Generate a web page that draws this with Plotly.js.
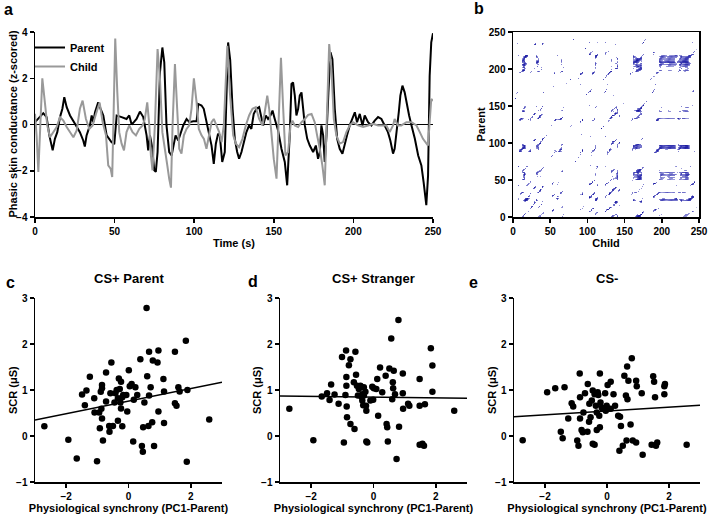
<!DOCTYPE html>
<html>
<head>
<meta charset="utf-8">
<script src="https://cdn.plot.ly/plotly-3.0.1.min.js"></script>
<style>html,body{margin:0;padding:0;background:#fff;}#chart{width:708px;height:516px;}</style>
</head>
<body>
<div id="chart"></div>
<script>
// ---------- Panel a: phasic skin conductance time series ----------
const parentTime = [0,5.2,7.3,9.0,11.1,12.5,14.0,15.7,17.2,18.4,19.9,22.0,25.1,28.2,30.3,31.3,32.4,34.5,35.6,36.6,37.7,39.7,41.2,42.9,45.0,48.0,49.8,51.3,54.4,57.5,59.2,60.7,62.1,63.8,65.9,68.0,70.1,71.1,72.2,73.6,74.9,75.9,77.0,78.5,80.0,81.2,82.6,84.3,85.8,86.8,88.3,90.0,91.6,93.1,95.2,96.9,99.4,101.5,102.5,104.6,106.0,107.7,109.4,110.9,112.3,113.6,115.0,116.1,117.6,119.2,121.3,122.6,124.1,125.5,127.0,128.2,129.7,131.2,132.8,134.5,135.9,137.4,139.1,140.8,142.3,143.3,145.0,146.4,147.9,149.2,150.6,152.7,154.8,156.9,158.4,160.0,161.1,162.1,163.2,164.2,165.3,166.3,167.4,168.4,169.5,171.0,172.6,174.7,176.4,177.8,178.9,179.9,181.0,182.0,183.1,184.3,185.6,186.8,188.3,189.8,191.4,193.1,194.6,196.0,197.7,199.3,200.9,202.3,204.0,205.7,207.1,209.2,211.3,213.4,215.5,217.6,219.6,221.7,223.2,224.9,225.9,227.0,228.5,229.5,230.8,232.2,233.3,235.0,236.5,238.6,240.7,242.7,244.1,245.8,246.9,247.9,248.9,250.0];
const parentZ = [0.10,0.49,0.32,-0.47,-1.12,-0.62,-0.33,0.32,0.68,1.18,0.75,0.39,0.03,-0.33,-0.69,-0.95,-0.47,-0.04,0.39,0.10,0.53,0.96,0.68,0.39,-0.47,-0.76,-0.85,0.39,0.32,0.24,0.39,0.00,0.10,0.24,0.56,0.32,-0.47,-1.12,-0.47,-0.98,-1.98,-2.05,-1.19,2.26,3.33,2.69,-0.04,-1.19,-1.34,-0.91,-0.47,-0.69,-0.33,-0.04,0.24,0.10,0.14,0.14,0.89,0.82,0.68,0.10,-0.47,-0.91,-1.70,-0.83,-0.40,-0.47,-1.62,-1.19,3.55,2.80,0.68,-0.62,-1.19,-1.48,-1.19,-0.76,-0.33,-0.04,-0.19,0.46,0.68,0.75,0.32,-0.04,0.39,0.24,0.39,0.60,0.24,-0.26,-1.05,-1.62,-2.63,-0.47,1.75,1.82,1.25,0.39,0.68,1.25,1.39,0.82,-0.04,-0.62,-0.91,-1.19,-0.91,-1.48,-1.19,-0.04,-0.47,-1.62,-0.47,1.39,3.12,2.83,0.68,-0.62,-1.05,-1.26,-0.91,-0.47,-0.04,0.24,0.53,0.10,0.46,-0.04,0.39,0.10,-0.04,0.17,0.32,0.24,-0.04,-0.33,-0.69,-1.26,-1.05,-0.47,0.53,1.25,1.68,1.39,0.96,0.39,-0.04,-0.62,-1.34,-1.77,-2.49,-3.49,-2.21,2.11,3.55,3.95];
const childTime = [0,1.0,2.1,3.2,4.6,6.3,7.7,9.4,11.5,13.6,15.7,17.8,19.9,22.0,24.1,26.2,28.2,29.9,32.0,34.1,36.2,38.3,40.6,42.5,44.6,46.0,47.5,48.5,49.6,50.4,51.7,52.9,54.4,55.9,57.5,59.2,61.3,63.4,65.5,67.6,69.0,70.5,71.8,72.8,73.8,75.3,77.0,78.5,80.0,81.6,83.1,84.3,85.4,86.4,87.9,89.3,90.6,92.0,93.5,95.2,96.9,98.3,99.8,101.5,102.9,104.6,106.1,107.7,109.4,110.9,112.3,114.0,115.7,117.2,118.6,120.8,122.4,124.5,126.2,128.2,130.3,132.4,134.5,136.6,138.7,140.8,142.9,144.3,145.9,147.1,148.6,150.0,151.7,153.0,154.5,155.9,157.3,159.0,160.5,161.7,163.2,165.3,167.4,169.5,171.6,173.7,175.7,177.2,178.9,180.5,182.0,183.5,184.8,186.2,187.7,189.3,191.4,193.5,195.6,197.7,199.8,202.9,206.1,209.2,212.3,215.5,218.6,220.7,222.8,224.9,225.9,228.0,230.1,233.3,236.5,239.6,241.7,243.7,246.9,247.9,248.9,250.0];
const childZ = [0.46,-0.47,-2.05,-0.33,2.00,0.89,-0.04,-0.55,-0.33,-0.11,0.32,0.17,-0.11,-0.33,-0.55,-0.26,0.68,1.03,0.24,-0.19,-0.04,0.46,0.95,0.10,-0.47,-1.77,-1.91,-2.27,1.20,3.72,1.39,-0.33,-0.83,-1.12,-0.33,-0.04,-0.33,-0.47,-0.19,-0.04,0.24,0.96,-0.04,-1.34,-1.98,-0.04,3.26,1.97,-0.33,-1.19,-1.77,-2.35,-2.73,-0.04,2.61,0.68,-1.05,-1.26,-0.47,-0.19,-0.04,0.68,2.00,0.96,-0.19,-0.47,-0.62,-1.05,-0.47,0.10,0.24,-0.04,-0.33,-0.76,-0.04,3.40,1.39,-0.47,-0.83,-0.98,-0.62,-0.04,0.39,0.68,0.75,0.24,-0.04,0.53,1.25,0.68,-0.62,-1.50,-2.34,-0.04,2.88,0.68,-1.34,-1.19,-0.04,0.17,-0.04,-0.11,0.10,0.24,0.42,0.46,0.10,-0.47,-1.05,-1.77,-2.63,0.68,3.48,2.41,0.24,-0.47,-0.83,-0.76,-0.33,-0.04,0.10,-0.04,-0.11,-0.04,0.03,-0.04,-0.04,-0.04,-0.33,-0.04,0.24,-0.04,-0.04,0.10,0.10,-0.04,-0.33,-0.62,-0.91,-0.04,1.10,1.03];
const timeTicks = [0,50,100,150,200,250];
const zTicks = [-4,-2,0,2,4];

// ---------- Panels c-e: SCR vs physiological synchrony ----------
const csParentX = [-2.70,-1.93,-1.66,-1.01,-1.49,-1.35,-1.24,-1.40,-1.10,-1.09,-0.94,-0.92,-0.87,-0.85,-0.85,-0.89,-0.85,-0.82,-0.72,-0.72,-0.62,-0.61,-0.55,-0.58,-0.50,-0.45,-0.42,-0.38,-0.34,-0.34,-0.31,-0.28,-0.26,-0.24,-0.24,-0.20,-0.20,-0.17,-0.07,-0.04,0.01,0.04,0.10,0.15,0.17,0.22,0.28,0.38,0.43,0.46,0.47,0.51,0.58,0.60,0.64,0.66,0.66,0.71,0.76,0.78,0.82,0.93,0.96,0.96,1.12,1.14,1.14,1.49,1.49,1.54,1.60,1.64,1.84,1.87,1.89,2.59];
const csParentY = [0.21,-0.08,-0.49,-0.55,0.90,0.99,1.29,0.67,0.82,0.51,0.51,0.17,0.59,1.11,1.04,0.96,0.38,-0.10,0.75,1.38,0.22,0.09,1.60,0.93,0.22,0.73,0.93,1.00,0.33,0.82,1.25,1.02,0.73,1.18,0.60,0.21,0.84,0.89,0.89,0.53,1.43,1.08,1.13,-0.12,0.79,1.06,0.89,1.67,-0.22,-0.34,0.19,0.73,2.78,1.30,0.22,1.83,0.88,1.06,0.30,1.64,-0.22,1.60,1.86,0.53,1.24,0.97,0.28,1.83,0.71,0.66,1.06,0.97,2.07,-0.56,1.00,0.36];
const csStrangerX = [-2.70,-1.93,-1.66,-1.49,-1.41,-1.36,-1.25,-1.12,-1.01,-0.95,-0.90,-0.88,-0.87,-0.87,-0.86,-0.85,-0.79,-0.74,-0.74,-0.63,-0.61,-0.58,-0.56,-0.53,-0.50,-0.47,-0.42,-0.39,-0.36,-0.36,-0.33,-0.31,-0.31,-0.26,-0.24,-0.23,-0.23,-0.20,-0.10,-0.04,-0.01,0.01,0.09,0.12,0.15,0.21,0.28,0.39,0.42,0.44,0.46,0.51,0.57,0.60,0.62,0.63,0.65,0.69,0.74,0.80,0.82,0.94,0.94,0.95,1.11,1.15,1.48,1.48,1.48,1.57,1.62,1.65,1.84,1.89,1.89,2.59];
const csStrangerY = [0.59,-0.09,0.86,0.93,0.78,1.12,0.90,0.70,1.72,-0.14,0.89,1.86,1.28,1.09,0.64,0.41,1.54,1.67,0.26,1.17,0.15,1.83,1.33,1.09,0.88,1.02,1.09,0.86,0.77,0.91,0.67,1.06,0.88,0.96,0.66,0.55,-0.12,-0.14,0.77,1.07,0.79,1.04,1.02,1.24,0.44,1.49,0.95,1.31,0.26,0.19,-0.12,1.47,2.12,0.80,1.17,1.04,1.42,0.91,-0.50,2.52,0.20,1.36,0.93,0.59,0.70,0.66,1.24,0.66,-0.19,-0.17,-0.21,0.69,1.91,1.53,0.96,0.55];
const csMinusX = [-2.72,-1.93,-1.67,-1.37,-1.49,-1.43,-1.25,-1.14,-1.09,-0.96,-0.92,-0.88,-0.87,-0.87,-0.82,-0.78,-0.76,-0.71,-0.63,-0.62,-0.58,-0.57,-0.53,-0.49,-0.46,-0.46,-0.40,-0.40,-0.36,-0.33,-0.33,-0.30,-0.28,-0.25,-0.23,-0.23,-0.21,-0.17,-0.14,-0.06,-0.04,-0.01,0.02,0.04,0.12,0.12,0.21,0.26,0.36,0.42,0.40,0.45,0.51,0.56,0.61,0.63,0.65,0.66,0.69,0.76,0.80,0.83,0.94,0.94,0.96,1.12,1.15,1.44,1.49,1.52,1.55,1.58,1.62,1.85,1.87,1.85,2.57];
const csMinusY = [-0.09,0.95,1.04,1.06,0.09,-0.05,0.38,0.71,0.64,-0.10,-0.21,1.36,0.84,0.38,0.13,0.08,0.51,0.93,0.09,1.13,0.31,0.70,0.41,0.77,0.99,-0.17,-0.19,0.91,0.66,0.51,0.13,0.95,0.89,0.44,1.36,0.19,0.73,0.62,0.59,0.93,0.55,0.66,1.11,0.59,1.18,0.59,0.91,0.66,0.44,0.42,-0.32,0.22,-0.21,1.31,0.88,-0.10,1.51,0.80,1.20,0.25,1.69,-0.10,-0.14,1.20,1.08,0.93,-0.41,-0.19,1.30,1.18,0.84,-0.21,-0.14,1.08,1.13,0.91,-0.19];
// regression lines (read at the ends of the x axis)
const fitX = [-3, 3];
const fitParentY = [0.35, 1.17];
const fitStrangerY = [0.87, 0.82];
const fitMinusY = [0.42, 0.67];
const syncTicks = [-2, 0, 2];
const scrTicks = [-1, 0, 1, 2, 3];

// ---------- Panel b: cross-recurrence of the two series above ----------
function onGrid(t, v) {
  const out = []; let k = 0;
  for (let s = 0; s <= 250; s++) {
    while (k < t.length - 2 && t[k + 1] < s) k++;
    let f = (s - t[k]) / (t[k + 1] - t[k]); f = Math.max(0, Math.min(1, f));
    out.push(v[k] + (v[k + 1] - v[k]) * f);
  }
  return out;
}
const P = onGrid(parentTime, parentZ), C = onGrid(childTime, childZ);
const M = 3, TAU = 2, EPS = 0.4;
const N = 251 - (M - 1) * TAU;
const rx = [], ry = [], rz = [];
for (let i = 0; i < N; i++) { rx.push(i); ry.push(i); }
for (let j = 0; j < N; j++) {
  const row = [];
  for (let i = 0; i < N; i++) {
    let d = 0;
    for (let k = 0; k < M; k++) d = Math.max(d, Math.abs(P[j + k * TAU] - C[i + k * TAU]));
    row.push(d < EPS ? 1 - d / EPS : null);
  }
  rz.push(row);
}

const FONT = 'Liberation Sans, Arial, Helvetica, sans-serif';
const tickF = {family: FONT, size: 10, color: '#000', weight: 'bold'};
const titleF = {family: FONT, size: 11, color: '#000', weight: 'bold'};
function ax(extra) {
  return Object.assign({showline: true, linecolor: '#000', linewidth: 1.5, ticks: 'outside', ticklen: 4, tickwidth: 1.5,
    tickcolor: '#000', showgrid: false, zeroline: false, tickfont: tickF, automargin: false, tickmode: 'array'}, extra);
}
const W = 708, H = 516;
const px = (a, b) => [a / W, b / W];
const py = (top, bottom) => [1 - bottom / H, 1 - top / H];
const xT = (text) => ({text: text, font: titleF, standoff: 4});

const traces = [
  {x: parentTime, y: parentZ, type: 'scatter', mode: 'lines', name: 'Parent', line: {color: '#000', width: 2}, xaxis: 'x', yaxis: 'y'},
  {x: childTime, y: childZ, type: 'scatter', mode: 'lines', name: 'Child', line: {color: '#999', width: 2}, xaxis: 'x', yaxis: 'y'},
  {x: rx, y: ry, z: rz, type: 'heatmap', xaxis: 'x2', yaxis: 'y2', showscale: false, zmin: 0, zmax: 1,
   colorscale: [[0, 'rgb(160,160,220)'], [0.5, 'rgb(60,60,180)'], [1, 'rgb(15,15,150)']], hoverinfo: 'skip', showlegend: false},
  {x: csParentX, y: csParentY, type: 'scatter', mode: 'markers', marker: {color: '#000', size: 6.5}, xaxis: 'x3', yaxis: 'y3', showlegend: false},
  {x: fitX, y: fitParentY, type: 'scatter', mode: 'lines', line: {color: '#000', width: 1.5}, xaxis: 'x3', yaxis: 'y3', showlegend: false},
  {x: csStrangerX, y: csStrangerY, type: 'scatter', mode: 'markers', marker: {color: '#000', size: 6.5}, xaxis: 'x4', yaxis: 'y4', showlegend: false},
  {x: fitX, y: fitStrangerY, type: 'scatter', mode: 'lines', line: {color: '#000', width: 1.5}, xaxis: 'x4', yaxis: 'y4', showlegend: false},
  {x: csMinusX, y: csMinusY, type: 'scatter', mode: 'markers', marker: {color: '#000', size: 6.5}, xaxis: 'x5', yaxis: 'y5', showlegend: false},
  {x: fitX, y: fitMinusY, type: 'scatter', mode: 'lines', line: {color: '#000', width: 1.5}, xaxis: 'x5', yaxis: 'y5', showlegend: false}
];

const scatY = py(298, 482);
const layout = {
  width: W, height: H, margin: {l: 0, r: 0, t: 0, b: 0}, paper_bgcolor: '#fff', plot_bgcolor: 'rgba(0,0,0,0)',
  font: {family: FONT, color: '#000'},
  showlegend: true,
  legend: {x: 30 / W, y: 1 - 33 / H, xanchor: 'left', yanchor: 'top', bgcolor: 'rgba(0,0,0,0)', font: {family: FONT, size: 11, color: '#000', weight: 'bold'}, tracegroupgap: 0},
  xaxis: ax({domain: px(35, 433), anchor: 'y', range: [0, 250], tickvals: timeTicks, title: xT('Time (s)')}),
  yaxis: ax({domain: py(32, 217), anchor: 'x', range: [-4, 4], tickvals: zTicks, zeroline: true, zerolinecolor: '#000', zerolinewidth: 1.5}),
  xaxis2: ax({domain: px(513, 699), anchor: 'y2', range: [0, 250], tickvals: timeTicks, mirror: true, title: xT('Child')}),
  yaxis2: ax({domain: py(32, 217), anchor: 'x2', range: [0, 250], tickvals: timeTicks, mirror: true}),
  xaxis3: ax({domain: px(35, 222), anchor: 'y3', range: [-3, 3], tickvals: syncTicks, title: xT('Physiological synchrony (PC1-Parent)')}),
  yaxis3: ax({domain: scatY, anchor: 'x3', range: [-1, 3], tickvals: scrTicks}),
  xaxis4: ax({domain: px(280, 467), anchor: 'y4', range: [-3, 3], tickvals: syncTicks, title: xT('Physiological synchrony (PC1-Parent)')}),
  yaxis4: ax({domain: scatY, anchor: 'x4', range: [-1, 3], tickvals: scrTicks}),
  xaxis5: ax({domain: px(514, 700), anchor: 'y5', range: [-3, 3], tickvals: syncTicks, title: xT('Physiological synchrony (PC1-Parent)')}),
  yaxis5: ax({domain: scatY, anchor: 'x5', range: [-1, 3], tickvals: scrTicks}),
  annotations: [
    {text: 'a', x: 2 / W, y: 1 - 9 / H},
    {text: 'b', x: 472 / W, y: 1 - 8 / H},
    {text: 'c', x: 4 / W, y: 1 - 282 / H},
    {text: 'd', x: 246 / W, y: 1 - 281 / H},
    {text: 'e', x: 467 / W, y: 1 - 282 / H}
  ].map(a => Object.assign({xref: 'paper', yref: 'paper', xanchor: 'left', yanchor: 'middle', showarrow: false,
      font: {family: FONT, size: 16, color: '#000', weight: 'bold'}}, a)).concat([
    {text: 'CS+ Parent', x: 128.5 / W},
    {text: 'CS+ Stranger', x: 373.5 / W},
    {text: 'CS-', x: 607 / W}
  ].map(a => Object.assign({xref: 'paper', yref: 'paper', y: 1 - 278 / H, xanchor: 'center', yanchor: 'middle', showarrow: false,
      font: {family: FONT, size: 13, color: '#000', weight: 'bold'}}, a))).concat([
    // y-axis titles
    {text: 'Phasic skin conductance (z-scored)', x: 13 / W, y: 1 - 124.5 / H},
    {text: 'Parent', x: 481 / W, y: 1 - 124.5 / H},
    {text: 'SCR (μS)', x: 13 / W, y: 1 - 390 / H},
    {text: 'SCR (μS)', x: 257 / W, y: 1 - 390 / H},
    {text: 'SCR (μS)', x: 492 / W, y: 1 - 390 / H}
  ].map(a => Object.assign({xref: 'paper', yref: 'paper', xanchor: 'center', yanchor: 'middle', textangle: -90, showarrow: false,
      font: titleF}, a)))
};

Plotly.newPlot('chart', traces, layout, {displayModeBar: false, staticPlot: true});
</script>
</body>
</html>
